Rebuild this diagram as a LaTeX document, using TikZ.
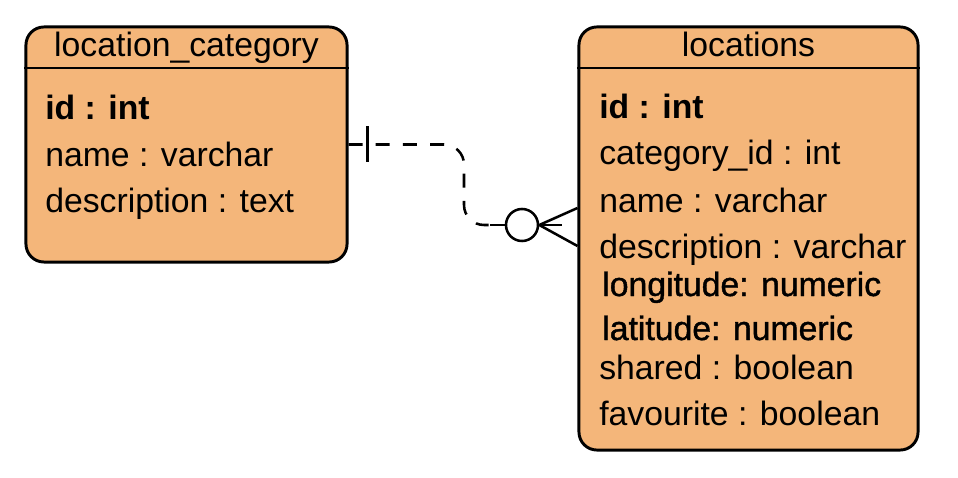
\documentclass[tikz,border=0pt]{standalone}
\usepackage{fontspec}
\setmainfont{Liberation Sans}
\newfontfamily\semibold[FakeBold=1.2]{Liberation Sans}
\usetikzlibrary{positioning}
\definecolor{entityfill}{RGB}{244,182,122}

\begin{document}
\begin{tikzpicture}[
    x=0.025cm, y=-0.025cm,
    entity/.style={
        rectangle, draw, line width=2.1pt, rounded corners=0.45cm,
        fill=entityfill, inner sep=0pt
    },
    title/.style={anchor=base, inner sep=0pt, font=\fontsize{24}{28}\selectfont},
    attr/.style={anchor=base west, inner sep=0pt, font=\fontsize{24}{28}\selectfont},
    pkey/.style={attr, font=\fontsize{24}{28}\selectfont\bfseries},
    rel/.style={line width=1.8pt, dash pattern=on 0.35cm off 0.33cm},
    markline/.style={line width=1.8pt}
]
\useasboundingbox (0,0) rectangle (958,478);

% Entities
\node[entity, minimum width=8.025cm, minimum height=5.875cm] (catbox) at (186.5,144.5) {};
\node[entity, minimum width=8.475cm, minimum height=10.575cm] (locbox) at (748.5,238.5) {};
\draw[markline] (catbox.west |- 0,68) -- (catbox.east |- 0,68);
\draw[markline] (locbox.west |- 0,68) -- (locbox.east |- 0,68);

% location_category
\node[title] (cattitle) at (186.5,57) {location\_category};
\node[pkey] (catid) at (45,120) {id : int};
\node[attr] (catname) at (45,167) {name : varchar};
\node[attr] (catdesc) at (45,213) {description : text};

% locations
\node[title] (loctitle) at (748.5,57) {locations};
\node[pkey] (locid) at (599,119) {id : int};
\foreach \txt/\yy [count=\i] in {category\_id : int/165, name : varchar/212,
    description : varchar/258, shared : boolean/379, favourite : boolean/425}
    \node[attr] (locattr-\i) at (599,\yy) {\txt};
\node[attr, font=\fontsize{24}{28}\semibold] (loclong) at (602,296) {longitude: numeric};
\node[attr, font=\fontsize{24}{28}\semibold] (loclat) at (602,340) {latitude: numeric};

% Relationship: one to zero-or-many
\node[circle, draw, line width=1.8pt, fill=white, minimum size=0.8cm, inner sep=0pt] (crowo) at (522,225) {};
\draw[rel, rounded corners=0.5cm] (catbox.east) -| (464,225) -- ([xshift=-0.4cm]crowo.west);
\draw[markline] (crowo.west) -- ++(-15,0);
\draw[markline] ([xshift=0.475cm]catbox.east) ++(0,-18) -- ++(0,36);
\draw[markline] (crowo.east) -- (locbox.west |- 0,208);
\draw[markline] (crowo.east) -- (locbox.west |- 0,246);
\draw[markline] (crowo.east) -- ++(23,0);

\end{tikzpicture}
\end{document}
